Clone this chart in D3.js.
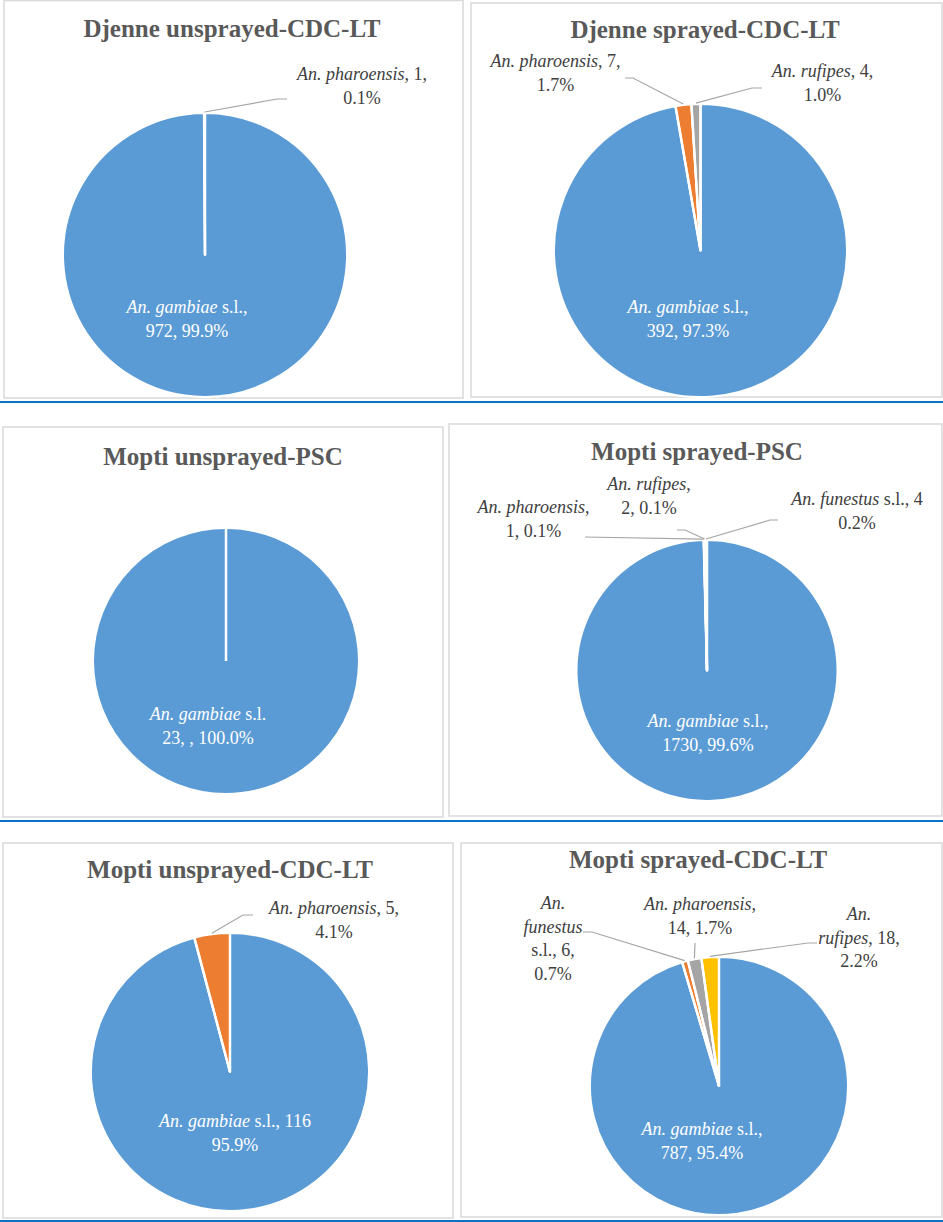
<!DOCTYPE html>
<html>
<head>
<meta charset="utf-8">
<script src="https://cdn.jsdelivr.net/npm/d3@7"></script>
<style>
  html, body { margin: 0; padding: 0; background: #fff; }
  svg { display: block; }
  .serif-text { font-family: "Liberation Serif", "Tinos", "Times New Roman", "DejaVu Serif", serif; }
</style>
</head>
<body>
<svg id="chart" width="943" height="1222"></svg>
<script>
// Anopheles species composition, six pies (site x spraying x collection method)

const SLICE_COLORS = ["#5B9BD5", "#ED7D31", "#A5A5A5", "#FFC000"];

const panelTitles = [
    "Djenne unsprayed-CDC-LT",
    "Djenne sprayed-CDC-LT",
    "Mopti unsprayed-PSC",
    "Mopti sprayed-PSC",
    "Mopti unsprayed-CDC-LT",
    "Mopti sprayed-CDC-LT"
];

// Djenne unsprayed, CDC light trap
const djenneUnsprayedCdcSpecies = ["An. gambiae s.l.", "An. pharoensis"];
const djenneUnsprayedCdcCounts = [972, 1];
const djenneUnsprayedCdcLabels = [
    ["*An. gambiae* s.l.,", "972, 99.9%"],
    ["*An. pharoensis*, 1,", "0.1%"]
];

// Djenne sprayed, CDC light trap
const djenneSprayedCdcSpecies = ["An. gambiae s.l.", "An. pharoensis", "An. rufipes"];
const djenneSprayedCdcCounts = [392, 7, 4];
const djenneSprayedCdcLabels = [
    ["*An. gambiae* s.l.,", "392, 97.3%"],
    ["*An. pharoensis*, 7,", "1.7%"],
    ["*An. rufipes*, 4,", "1.0%"]
];

// Mopti unsprayed, pyrethrum spray catch
const moptiUnsprayedPscSpecies = ["An. gambiae s.l."];
const moptiUnsprayedPscCounts = [23];
const moptiUnsprayedPscLabels = [
    ["*An. gambiae* s.l.", "23, , 100.0%"]
];

// Mopti sprayed, pyrethrum spray catch
const moptiSprayedPscSpecies = ["An. gambiae s.l.", "An. pharoensis", "An. rufipes", "An. funestus s.l."];
const moptiSprayedPscCounts = [1730, 1, 2, 4];
const moptiSprayedPscLabels = [
    ["*An. gambiae* s.l.,", "1730,  99.6%"],
    ["*An. pharoensis*,", "1, 0.1%"],
    ["*An. rufipes*,", "2, 0.1%"],
    ["*An. funestus* s.l., 4", "0.2%"]
];

// Mopti unsprayed, CDC light trap
const moptiUnsprayedCdcSpecies = ["An. gambiae s.l.", "An. pharoensis"];
const moptiUnsprayedCdcCounts = [116, 5];
const moptiUnsprayedCdcLabels = [
    ["*An. gambiae* s.l., 116", "95.9%"],
    ["*An. pharoensis*, 5,", "4.1%"]
];

// Mopti sprayed, CDC light trap
const moptiSprayedCdcSpecies = ["An. gambiae s.l.", "An. funestus s.l.", "An. pharoensis", "An. rufipes"];
const moptiSprayedCdcCounts = [787, 6, 14, 18];
const moptiSprayedCdcLabels = [
    ["*An. gambiae* s.l.,", "787, 95.4%"],
    ["*An.*", "*funestus*", "s.l., 6,", "0.7%"],
    ["*An. pharoensis*,", "14, 1.7%"],
    ["*An.*", "*rufipes*, 18,", "2.2%"]
];

// Layout: frame box, title, pie centre/radius, label offsets from the pie centre
const panels = [
    {
        counts: djenneUnsprayedCdcCounts, labels: djenneUnsprayedCdcLabels,
        box: [4, 0.5, 459, 397.5], titleX: 232, titleY: 37,
        cx: 205, cy: 255, r: 142,
        labelPos: [
            { dx: -18, dy: 58 },
            { dx: 157, dy: -175, leader: [[72, -156], [82, -156]] }
        ]
    },
    {
        counts: djenneSprayedCdcCounts, labels: djenneSprayedCdcLabels,
        box: [471, 3, 471, 394], titleX: 705, titleY: 38,
        cx: 700.5, cy: 250.5, r: 146.5,
        labelPos: [
            { dx: -12.5, dy: 62.5 },
            { dx: -145, dy: -183.5, leader: [[-67.5, -172.5], [-75.5, -172.5]] },
            { dx: 122, dy: -173.5, leader: [[51.5, -162.5], [61.5, -162.5]] }
        ]
    },
    {
        counts: moptiUnsprayedPscCounts, labels: moptiUnsprayedPscLabels,
        box: [3, 427, 440, 390], titleX: 223, titleY: 465,
        cx: 226, cy: 661, r: 133,
        labelPos: [
            { dx: -18, dy: 59 }
        ]
    },
    {
        counts: moptiSprayedPscCounts, labels: moptiSprayedPscLabels,
        box: [449, 424, 493, 392], titleX: 697, titleY: 460,
        cx: 707, cy: 670.5, r: 130.5,
        labelPos: [
            { dx: 1, dy: 56.5 },
            { dx: -173.5, dy: -157.5, leader: [[-122, -133.5]] },
            { dx: -58, dy: -180.5, leader: [[-22, -140.5], [-30, -140.5]] },
            { dx: 150, dy: -165.5, leader: [[63, -150.5], [71, -150.5]] }
        ]
    },
    {
        counts: moptiUnsprayedCdcCounts, labels: moptiUnsprayedCdcLabels,
        box: [3, 843, 450, 375], titleX: 230, titleY: 878,
        cx: 230, cy: 1072, r: 139,
        labelPos: [
            { dx: 5, dy: 55 },
            { dx: 104, dy: -158, leader: [[13, -157], [23, -157]] }
        ]
    },
    {
        counts: moptiSprayedCdcCounts, labels: moptiSprayedCdcLabels,
        box: [461, 843, 481, 374], titleX: 698, titleY: 868,
        cx: 719, cy: 1086, r: 129,
        labelPos: [
            { dx: -17, dy: 49 },
            { dx: -166, dy: -177, leader: [[-127, -154], [-136, -154]] },
            { dx: -19, dy: -176, leader: [[-24, -143]] },
            { dx: 140, dy: -166, leader: [[89, -143], [98, -143]] }
        ]
    }
];

const rowRuleYs = [402, 821, 1221];
const LINE_H = 23.5;

const svg = d3.select("#chart");

// Blue horizontal rules under each row
svg.selectAll("line.row-rule")
    .data(rowRuleYs)
    .join("line")
    .attr("class", "row-rule")
    .attr("x1", 0).attr("x2", 943)
    .attr("y1", d => d).attr("y2", d => d)
    .attr("stroke", "#0C72C6")
    .attr("stroke-width", 2.2);

const pie = d3.pie().sort(null).value(d => d);

function addRichLine(sel, str) {
    // "*...*" marks italic runs
    str.split("*").forEach((part, i) => {
        if (!part) return;
        sel.append("tspan")
            .attr("font-style", i % 2 === 1 ? "italic" : "normal")
            .text(part);
    });
}

panels.forEach((p, pi) => {
    const g = svg.append("g").attr("class", "panel");

    g.append("rect")
        .attr("x", p.box[0]).attr("y", p.box[1])
        .attr("width", p.box[2]).attr("height", p.box[3])
        .attr("fill", "#fff")
        .attr("stroke", "#D9D9D9")
        .attr("stroke-width", 1.5);

    g.append("text")
        .attr("class", "serif-text")
        .attr("x", p.titleX).attr("y", p.titleY)
        .attr("text-anchor", "middle")
        .attr("font-weight", "bold")
        .attr("font-size", "25px")
        .attr("fill", "#595959")
        .text(panelTitles[pi]);

    const arcs = pie(p.counts);
    const arcGen = d3.arc().innerRadius(0).outerRadius(p.r);
    const pieG = g.append("g").attr("transform", `translate(${p.cx},${p.cy})`);

    pieG.selectAll("path")
        .data(arcs)
        .join("path")
        .attr("d", arcGen)
        .attr("fill", (d, i) => SLICE_COLORS[i])
        .attr("stroke", "#fff")
        .attr("stroke-width", 2)
        .attr("stroke-linejoin", "round");

    // slice edges (also shows the seam on a single full slice)
    pieG.selectAll("line.seam")
        .data(arcs)
        .join("line")
        .attr("class", "seam")
        .attr("x1", 0).attr("y1", 0)
        .attr("x2", d => Math.sin(d.startAngle) * p.r)
        .attr("y2", d => -Math.cos(d.startAngle) * p.r)
        .attr("stroke", "#fff")
        .attr("stroke-width", 2.5);

    // Leader lines from slice edge to label
    arcs.forEach((a, i) => {
        const pos = p.labelPos[i];
        if (!pos.leader) return;
        const mid = (a.startAngle + a.endAngle) / 2;
        const pts = [[Math.sin(mid) * (p.r + 1), -Math.cos(mid) * (p.r + 1)]].concat(pos.leader);
        pieG.append("path")
            .attr("d", d3.line()(pts))
            .attr("fill", "none")
            .attr("stroke", "#A6A6A6")
            .attr("stroke-width", 1.2);
    });

    // Data labels
    arcs.forEach((a, i) => {
        const pos = p.labelPos[i];
        const inside = i === 0;
        p.labels[i].forEach((line, li) => {
            const t = pieG.append("text")
                .attr("class", "serif-text")
                .attr("x", pos.dx)
                .attr("y", pos.dy + li * LINE_H)
                .attr("text-anchor", "middle")
                .attr("font-size", "18px")
                .attr("fill", inside ? "#fff" : "#404040");
            addRichLine(t, line);
        });
    });
});
</script>
</body>
</html>
